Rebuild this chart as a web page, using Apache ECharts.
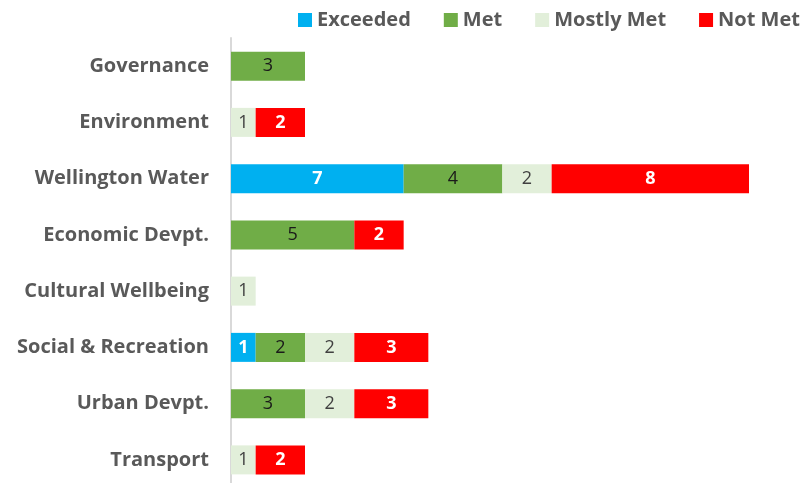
<!DOCTYPE html>
<html>
<head>
<meta charset="utf-8">
<script src="https://cdn.jsdelivr.net/npm/echarts@6/dist/echarts.min.js"></script>
<style>
  html, body { margin: 0; padding: 0; background: #fff; }
  #chart { width: 805px; height: 483px; }
</style>
</head>
<body>
<div id="chart"></div>
<script>
// categories, top to bottom
const categories = ['Governance', 'Environment', 'Wellington Water', 'Economic Devpt.',
  'Cultural Wellbeing', 'Social & Recreation', 'Urban Devpt.', 'Transport']
const seriesNames = ['Exceeded', 'Met', 'Mostly Met', 'Not Met']
// null = no bar
const exceeded = [null, null, 7, null, null, 1, null, null]
const met = [3, null, 4, 5, null, 2, 3, null]
const mostlyMet = [null, 1, 2, null, 1, 2, 2, 1]
const notMet = [null, 2, 8, 2, null, 3, 3, 2]

const colors = ['#00B0F0', '#70AD47', '#E2EFDA', '#FF0000']
const labelColors = ['#fff', '#1a1a1a', '#404040', '#fff']
const labelWeights = ['bold', 'normal', 'normal', 'bold']
const allData = [exceeded, met, mostlyMet, notMet]

const chart = echarts.init(document.getElementById('chart'))

const series = seriesNames.map((name, i) => ({
  name,
  type: 'bar',
  stack: 'total',
  data: allData[i],
  barWidth: 29,
  itemStyle: { color: colors[i] },
  label: {
    show: true,
    position: 'inside',
    color: labelColors[i],
    fontWeight: labelWeights[i],
    fontSize: 18,
    fontFamily: 'Open Sans',
  },
}))

chart.setOption({
  animation: false,
  legend: {
    top: 5,
    left: 293,
    itemWidth: 14,
    itemHeight: 14,
    itemGap: 33,
    icon: 'rect',
    textStyle: { color: '#595959', fontSize: 20, fontFamily: 'Open Sans', fontWeight: 'bold' },
    data: seriesNames,
  },
  grid: {
    left: 231,
    top: 38,
    width: 518,
    height: 450,
    outerBoundsMode: 'none',
  },
  xAxis: {
    type: 'value',
    min: 0,
    max: 21,
    show: false,
  },
  yAxis: {
    type: 'category',
    data: categories,
    inverse: true,
    axisTick: { show: false },
    axisLine: { lineStyle: { color: '#D9D9D9', width: 2 } },
    axisLabel: {
      color: '#595959',
      fontSize: 20,
      fontWeight: 'bold',
      fontFamily: 'Open Sans',
      margin: 22,
    },
  },
  series,
})
</script>
</body>
</html>
